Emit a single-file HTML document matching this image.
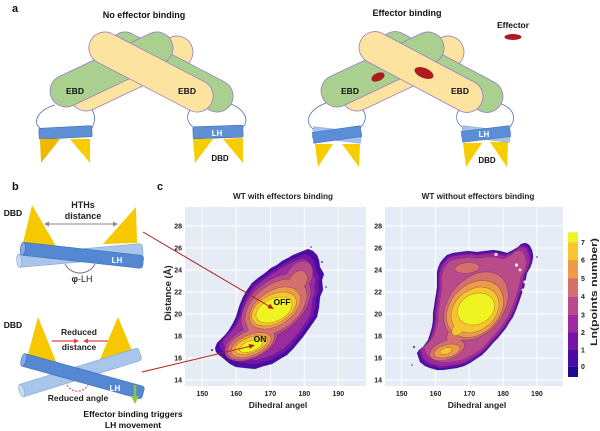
<!DOCTYPE html>
<html><head><meta charset="utf-8"><style>
html,body{margin:0;padding:0;background:#fff;}
svg{display:block;font-family:"Liberation Sans",Arial,sans-serif;}
</style></head><body>
<svg width="600" height="431" viewBox="0 0 600 431" xmlns="http://www.w3.org/2000/svg">
<defs>
<marker id="ar" markerWidth="6" markerHeight="6" refX="5" refY="3" orient="auto" markerUnits="userSpaceOnUse"><path d="M0,0.5 L6,3 L0,5.5 Z" fill="#b01e1e"/></marker>
<path id="EL" d="M215,348 L216,352 L219,355 L224,359 L230,364 L236,367 L245,368 L255,369 L264,366 L272,364 L280,359 L287,355 L293,349 L298,343 L303,337 L308,330 L313,323 L317,317 L319,308 L320,297 L323,290 L322,280 L324,274 L320,267 L319,260 L317,255 L313,251 L308,249 L303,251 L298,253 L293,255 L288,258 L282,261 L277,265 L271,268 L265,273 L258,278 L252,283 L247,290 L243,297 L240,304 L238,310 L236,317 L233,323 L229,330 L225,335 L221,339 L217,343 Z"/>
<path id="ER" d="M417,353 L420,362 L425,366 L430,368 L437,370 L443,370 L450,369 L457,368 L464,366 L470,363 L476,359 L482,355 L488,349 L493,343 L498,338 L502,333 L506,328 L509,323 L513,317 L516,310 L519,302 L522,293 L524,288 L525,283 L526,278 L527,273 L530,268 L532,263 L533,258 L533,255 L532,250 L530,246 L528,244 L525,243 L521,244 L518,247 L513,250 L507,253 L500,251 L493,250 L485,251 L477,252 L468,251 L460,252 L453,253 L447,255 L443,259 L440,263 L438,268 L437,272 L437,280 L437,287 L436,294 L435,300 L434,307 L433,313 L433,320 L432,327 L430,334 L428,340 L423,347 L419,350 Z"/>
<!-- left plot levels -->
<g id="L4"><ellipse rx="40" ry="25" transform="translate(276,306) rotate(-40)"/><ellipse rx="28" ry="15" transform="translate(251,343) rotate(-25)"/><ellipse rx="17" ry="12" transform="translate(299,277) rotate(-55)"/></g>
<g id="L5"><ellipse rx="35" ry="22" transform="translate(276,307) rotate(-38)"/><ellipse rx="25" ry="13" transform="translate(251,344) rotate(-24)"/><ellipse rx="11" ry="8" transform="translate(298,281) rotate(-55)"/><ellipse rx="12" ry="8" transform="translate(258,328) rotate(-50)"/></g>
<g id="L6"><ellipse rx="28" ry="17" transform="translate(275,308) rotate(-33)"/><ellipse rx="21" ry="10" transform="translate(251,345) rotate(-22)"/></g>
<g id="L7"><ellipse rx="24" ry="14" transform="translate(274,309) rotate(-28)"/><ellipse rx="17" ry="7.5" transform="translate(251,345) rotate(-20)"/></g>
<g id="L8"><ellipse rx="19" ry="11" transform="translate(274,310) rotate(-25)"/><ellipse rx="12" ry="5" transform="translate(251,346) rotate(-20)"/></g>
<!-- right plot levels -->
<g id="R5"><ellipse rx="38" ry="27" transform="translate(476,306) rotate(-50)"/><ellipse rx="18" ry="9" transform="translate(447,350) rotate(-20)"/><ellipse rx="12" ry="5" transform="translate(467,268) rotate(-5)"/><ellipse rx="14" ry="8" transform="translate(458,332) rotate(-50)"/></g>
<g id="R6"><ellipse rx="32" ry="24" transform="translate(475,309) rotate(-45)"/><ellipse rx="13" ry="6" transform="translate(447,351) rotate(-15)"/></g>
<g id="R7"><ellipse rx="26" ry="20" transform="translate(475,310) rotate(-40)"/><ellipse rx="9" ry="5" transform="translate(459,328) rotate(-50)"/><ellipse rx="6" ry="3" transform="translate(446,351) rotate(-15)"/></g>
<g id="R8"><ellipse rx="19" ry="15" transform="translate(476,309) rotate(-25)"/></g>
</defs>

<!-- ===== Panel a ===== -->
<text x="12" y="12" font-size="11" font-weight="bold" fill="#111">a</text>
<text x="144" y="18" font-size="9" font-weight="bold" text-anchor="middle" fill="#111">No effector binding</text>
<text x="407" y="16" font-size="9" font-weight="bold" text-anchor="middle" fill="#111">Effector binding</text>
<text x="513" y="28" font-size="8.5" font-weight="bold" text-anchor="middle" fill="#111">Effector</text>
<ellipse cx="513" cy="37" rx="8.5" ry="3" fill="#b0191e"/>

<g fill="none" stroke="#4a72b0" stroke-width="0.8">
<path d="M55,105 C38,110 32,122 40,128"/>
<path d="M92,110 C96,116 95,122 92,128"/>
<path d="M190,110 C186,116 187,122 193,127"/>
<path d="M228,103 C244,108 250,120 243,127"/>
<path d="M326,103 C308,110 304,122 313,129"/>
<path d="M363,110 C367,116 366,122 360,128"/>
<path d="M459,110 C455,116 456,122 462,127"/>
<path d="M499,103 C514,108 517,118 510,127"/>
</g>
<g stroke="#9a7cc8" stroke-width="0.8">
<rect x="-66.3" y="-16" width="132.6" height="32" rx="16" fill="#fce4a0" transform="translate(131.5,73.5) rotate(-25.3)"/>
<rect x="-68" y="-16" width="136" height="32" rx="16" fill="#a9d08e" transform="translate(171,72) rotate(27.5)"/>
<rect x="-66.3" y="-16" width="132.6" height="32" rx="16" fill="#a9d08e" transform="translate(111.5,69.5) rotate(-25.3)"/>
<rect x="-68" y="-16" width="136" height="32" rx="16" fill="#fce4a0" transform="translate(151,72) rotate(27.5)"/>
</g>
<g stroke="#9a7cc8" stroke-width="0.8">
<rect x="-66.3" y="-16" width="132.6" height="32" rx="16" fill="#fce4a0" transform="translate(402.5,73.5) rotate(-25.3)"/>
<rect x="-68" y="-16" width="136" height="32" rx="16" fill="#a9d08e" transform="translate(441,72) rotate(28)"/>
<rect x="-66.3" y="-16" width="132.6" height="32" rx="16" fill="#a9d08e" transform="translate(382.5,69.5) rotate(-25.3)"/>
</g>
<ellipse cx="0" cy="0" rx="7" ry="4" fill="#b0191e" transform="translate(378,77) rotate(-25)"/>
<rect x="-68" y="-16" width="136" height="32" rx="16" fill="#fce4a0" stroke="#9a7cc8" stroke-width="0.8" transform="translate(421,72) rotate(28)"/>
<ellipse cx="0" cy="0" rx="10" ry="5" fill="#b0191e" transform="translate(424,73) rotate(22)"/>

<g font-size="8.5" font-weight="bold" fill="#111" text-anchor="middle">
<text x="75" y="94">EBD</text><text x="187" y="94">EBD</text>
<text x="350" y="94">EBD</text><text x="460" y="94">EBD</text>
</g>

<rect x="39" y="127" width="53" height="11" rx="1.5" fill="#5f8fd4" stroke="#3f6db0" stroke-width="0.6" transform="rotate(-3 65.5 132.5)"/>
<rect x="193" y="126" width="50" height="12" rx="1.5" fill="#5f8fd4" stroke="#3f6db0" stroke-width="0.6" transform="rotate(-2 218 132)"/>
<polygon points="40,139 60,139 41,163" fill="#f0b800"/>
<polygon points="70,139 90,139 90,163" fill="#f7cd00"/>
<polygon points="193,139 213,139 195,163" fill="#f7cd00"/>
<polygon points="223,139 243,138 243,163" fill="#f7cd00"/>
<text x="217" y="136" font-size="8" font-weight="bold" fill="#fff" text-anchor="middle">LH</text>
<text x="220" y="161" font-size="8" font-weight="bold" fill="#111" text-anchor="middle">DBD</text>

<polygon points="315,144 333,144 318,167" fill="#f7cd00"/>
<polygon points="342,144 360,144 359,167" fill="#f7cd00"/>
<polygon points="463,143 482,143 466,167" fill="#f7cd00"/>
<polygon points="490,142 508,142 507,167" fill="#f7cd00"/>
<rect x="-24.2" y="-5.5" width="48.4" height="11" fill="#a3c3ea" stroke="#7fa3d6" stroke-width="0.5" transform="translate(337,135) rotate(7)"/>
<rect x="-24.2" y="-5.5" width="48.4" height="11" fill="#5b8ed6" stroke="#3f6db0" stroke-width="0.5" transform="translate(337,134.5) rotate(-8)"/>
<rect x="-24.2" y="-5.5" width="48.4" height="11" fill="#a3c3ea" stroke="#7fa3d6" stroke-width="0.5" transform="translate(486,134) rotate(7)"/>
<rect x="-24.2" y="-5.5" width="48.4" height="11" fill="#5b8ed6" stroke="#3f6db0" stroke-width="0.5" transform="translate(486,134) rotate(-7)"/>
<text x="484" y="137" font-size="8" font-weight="bold" fill="#fff" text-anchor="middle">LH</text>
<text x="487" y="163" font-size="8" font-weight="bold" fill="#111" text-anchor="middle">DBD</text>

<!-- ===== Panel b ===== -->
<text x="12" y="190" font-size="11" font-weight="bold" fill="#111">b</text>
<text x="157" y="190" font-size="11" font-weight="bold" fill="#111">c</text>
<text x="13" y="216" font-size="8.5" font-weight="bold" fill="#111" text-anchor="middle">DBD</text>
<text x="83" y="208" font-size="9" font-weight="bold" fill="#222" text-anchor="middle">HTHs</text>
<text x="83" y="219" font-size="9" font-weight="bold" fill="#222" text-anchor="middle">distance</text>
<line x1="48" y1="224" x2="114" y2="224" stroke="#8a8a8a" stroke-width="1"/>
<polygon points="44,224 49,221.5 49,226.5" fill="#8a8a8a"/>
<polygon points="118,224 113,221.5 113,226.5" fill="#8a8a8a"/>
<polygon points="32,205 23,243 56,246" fill="#f5c800"/>
<polygon points="136,207 103,244 137,243" fill="#f5c800"/>
<g transform="translate(80,255.5) rotate(-5)"><rect x="-63" y="-6.5" width="126" height="13" rx="3" fill="#a8c5eb" stroke="#7fa3d6" stroke-width="0.6"/><ellipse cx="-61" cy="0" rx="2.5" ry="6.5" fill="#c9dcf4" stroke="#7fa3d6" stroke-width="0.6"/></g>
<g transform="translate(82,255.3) rotate(6.3)"><rect x="-61.5" y="-6.5" width="123" height="13" rx="3" fill="#5588d2" stroke="#3d6db5" stroke-width="0.6"/><ellipse cx="-59.5" cy="0" rx="2.5" ry="6.5" fill="#86abe2" stroke="#3d6db5" stroke-width="0.6"/></g>
<text x="117" y="263" font-size="8" font-weight="bold" fill="#fff" text-anchor="middle">LH</text>
<path d="M65,264 A17,17 0 0,0 95,264" fill="none" stroke="#777" stroke-width="1"/>
<text x="82" y="282" font-size="9" fill="#222" text-anchor="middle"><tspan font-weight="bold">φ</tspan>-LH</text>

<text x="13" y="328" font-size="8.5" font-weight="bold" fill="#111" text-anchor="middle">DBD</text>
<text x="79" y="335" font-size="8.5" font-weight="bold" fill="#222" text-anchor="middle">Reduced</text>
<text x="79" y="350" font-size="8.5" font-weight="bold" fill="#222" text-anchor="middle">distance</text>
<line x1="52" y1="341" x2="74" y2="341" stroke="#e84040" stroke-width="1.2"/>
<polygon points="74,338.5 79,341 74,343.5" fill="#e84040"/>
<line x1="108" y1="341" x2="88" y2="341" stroke="#e84040" stroke-width="1.2"/>
<polygon points="88,338.5 83,341 88,343.5" fill="#e84040"/>
<polygon points="38,317 27,358 57,364" fill="#f5c800"/>
<polygon points="118,317 98,364 133,353" fill="#f5c800"/>
<g transform="translate(80,372.5) rotate(-17.2)"><rect x="-63" y="-6.5" width="126" height="13" rx="3" fill="#a8c5eb" stroke="#7fa3d6" stroke-width="0.6"/><ellipse cx="-61" cy="0" rx="2.5" ry="6.5" fill="#c9dcf4" stroke="#7fa3d6" stroke-width="0.6"/></g>
<g transform="translate(82.5,376.2) rotate(15.5)"><rect x="-63" y="-6.5" width="126" height="13" rx="3" fill="#5588d2" stroke="#3d6db5" stroke-width="0.6"/><ellipse cx="-61" cy="0" rx="2.5" ry="6.5" fill="#86abe2" stroke="#3d6db5" stroke-width="0.6"/></g>
<text x="115" y="391" font-size="8" font-weight="bold" fill="#fff" text-anchor="middle">LH</text>
<path d="M67,385 A12,12 0 0,0 88,385" fill="none" stroke="#e84040" stroke-width="1" stroke-dasharray="2,1.5"/>
<text x="78" y="401" font-size="8.5" font-weight="bold" fill="#222" text-anchor="middle">Reduced angle</text>
<line x1="135" y1="385" x2="135" y2="397" stroke="#8cc63f" stroke-width="2.5"/>
<polygon points="131,396 139,396 135,404" fill="#8cc63f"/>
<text x="133" y="417" font-size="8.5" font-weight="bold" fill="#111" text-anchor="middle">Effector binding triggers</text>
<text x="133" y="428" font-size="8.5" font-weight="bold" fill="#111" text-anchor="middle">LH movement</text>

<!-- ===== Panel c: left plot ===== -->
<rect x="185" y="207" width="181" height="179" fill="#e5ecf6"/>
<g stroke="#fff" stroke-width="1">
<line x1="202.3" y1="207" x2="202.3" y2="386"/><line x1="236.3" y1="207" x2="236.3" y2="386"/><line x1="270.3" y1="207" x2="270.3" y2="386"/><line x1="304.3" y1="207" x2="304.3" y2="386"/><line x1="338.3" y1="207" x2="338.3" y2="386"/>
<line x1="185" y1="226" x2="366" y2="226"/><line x1="185" y1="248" x2="366" y2="248"/><line x1="185" y1="270" x2="366" y2="270"/><line x1="185" y1="292" x2="366" y2="292"/><line x1="185" y1="314" x2="366" y2="314"/><line x1="185" y1="336" x2="366" y2="336"/><line x1="185" y1="358" x2="366" y2="358"/><line x1="185" y1="380" x2="366" y2="380"/>
</g>
<use href="#EL" fill="#4b0ca6" stroke="#333" stroke-opacity=".3" stroke-width=".5"/>
<use href="#EL" fill="#7514a9" stroke="#333" stroke-opacity=".3" stroke-width=".5" transform="translate(270,310) scale(0.92) translate(-270,-310)"/>
<use href="#EL" fill="#9b2b9f" stroke="#333" stroke-opacity=".3" stroke-width=".5" transform="translate(270,310) scale(0.85) translate(-270,-310)"/>
<use href="#L4" fill="none" stroke="#333" stroke-opacity=".4" stroke-width="1"/><use href="#L4" fill="#b94b8b"/>
<use href="#L5" fill="none" stroke="#333" stroke-opacity=".4" stroke-width="1"/><use href="#L5" fill="#d5706d"/>
<use href="#L6" fill="none" stroke="#333" stroke-opacity=".4" stroke-width="1"/><use href="#L6" fill="#eb9b4a"/>
<use href="#L7" fill="none" stroke="#333" stroke-opacity=".4" stroke-width="1"/><use href="#L7" fill="#f6c52f"/>
<use href="#L8" fill="none" stroke="#333" stroke-opacity=".4" stroke-width="1"/><use href="#L8" fill="#eef321"/>
<g fill="#4b0ca6"><circle cx="212" cy="350" r="1"/><circle cx="322" cy="262" r="0.9"/><circle cx="326" cy="287" r="0.8"/><circle cx="311" cy="247" r="0.8"/></g>
<text x="282" y="305" font-size="8.5" font-weight="bold" fill="#111" text-anchor="middle">OFF</text>
<text x="260" y="342" font-size="8.5" font-weight="bold" fill="#111" text-anchor="middle">ON</text>

<g font-size="7" font-weight="bold" fill="#222" text-anchor="end">
<text x="182" y="228.5">28</text><text x="182" y="250.5">26</text><text x="182" y="272.5">24</text><text x="182" y="294.5">22</text><text x="182" y="316.5">20</text><text x="182" y="338.5">18</text><text x="182" y="360.5">16</text><text x="182" y="382.5">14</text>
<text x="382" y="228.5">28</text><text x="382" y="250.5">26</text><text x="382" y="272.5">24</text><text x="382" y="294.5">22</text><text x="382" y="316.5">20</text><text x="382" y="338.5">18</text><text x="382" y="360.5">16</text><text x="382" y="382.5">14</text>
</g>
<g font-size="7" font-weight="bold" fill="#222" text-anchor="middle">
<text x="202.3" y="396">150</text><text x="236.3" y="396">160</text><text x="270.3" y="396">170</text><text x="304.3" y="396">180</text><text x="338.3" y="396">190</text>
<text x="401.7" y="396">150</text><text x="435.5" y="396">160</text><text x="469.3" y="396">170</text><text x="503.1" y="396">180</text><text x="536.9" y="396">190</text>
</g>
<text x="283" y="199" font-size="8.2" font-weight="bold" fill="#222" text-anchor="middle">WT with effectors binding</text>
<text x="478" y="199" font-size="8.2" font-weight="bold" fill="#222" text-anchor="middle">WT without effectors binding</text>
<text x="278" y="408" font-size="8.5" font-weight="bold" fill="#222" text-anchor="middle">Dihedral angel</text>
<text x="477" y="408" font-size="8.5" font-weight="bold" fill="#222" text-anchor="middle">Dihedral angel</text>
<text transform="translate(171,293) rotate(-90)" font-size="9.5" font-weight="bold" fill="#222" text-anchor="middle">Distance (Å)</text>

<!-- ===== right plot ===== -->
<rect x="385" y="207" width="178" height="179" fill="#e5ecf6"/>
<g stroke="#fff" stroke-width="1">
<line x1="401.7" y1="207" x2="401.7" y2="386"/><line x1="435.5" y1="207" x2="435.5" y2="386"/><line x1="469.3" y1="207" x2="469.3" y2="386"/><line x1="503.1" y1="207" x2="503.1" y2="386"/><line x1="536.9" y1="207" x2="536.9" y2="386"/>
<line x1="385" y1="226" x2="563" y2="226"/><line x1="385" y1="248" x2="563" y2="248"/><line x1="385" y1="270" x2="563" y2="270"/><line x1="385" y1="292" x2="563" y2="292"/><line x1="385" y1="314" x2="563" y2="314"/><line x1="385" y1="336" x2="563" y2="336"/><line x1="385" y1="358" x2="563" y2="358"/><line x1="385" y1="380" x2="563" y2="380"/>
</g>
<use href="#ER" fill="#4b0ca6" stroke="#333" stroke-opacity=".3" stroke-width=".5"/>
<use href="#ER" fill="#7514a9" stroke="#333" stroke-opacity=".3" stroke-width=".5" transform="translate(476,305) scale(0.97) translate(-476,-305)"/>
<use href="#ER" fill="#9b2b9f" stroke="#333" stroke-opacity=".3" stroke-width=".5" transform="translate(476,305) scale(0.94) translate(-476,-305)"/>
<use href="#ER" fill="#b94b8b" stroke="#333" stroke-opacity=".3" stroke-width=".5" transform="translate(476,305) scale(0.88) translate(-476,-305)"/>
<use href="#R5" fill="none" stroke="#333" stroke-opacity=".4" stroke-width="1"/><use href="#R5" fill="#d5706d"/>
<use href="#R6" fill="none" stroke="#333" stroke-opacity=".4" stroke-width="1"/><use href="#R6" fill="#eb9b4a"/>
<use href="#R7" fill="none" stroke="#333" stroke-opacity=".4" stroke-width="1"/><use href="#R7" fill="#f6c52f"/>
<use href="#R8" fill="none" stroke="#333" stroke-opacity=".4" stroke-width="1"/><use href="#R8" fill="#eef321"/>
<g fill="#e5ecf6"><circle cx="496" cy="254.5" r="1.6"/><circle cx="516.5" cy="265" r="1.6"/><circle cx="520" cy="270" r="1.4"/><circle cx="525" cy="282" r="1.6"/><circle cx="523" cy="290" r="1.5"/></g>
<g fill="#4b0ca6"><circle cx="414" cy="347" r="1"/><circle cx="412" cy="365" r="0.7"/><circle cx="537" cy="257" r="0.8"/></g>

<!-- colorbar -->
<rect x="568" y="232.3" width="10" height="10" fill="#eef321"/>
<rect x="568" y="242.3" width="10" height="17.8" fill="#f6c52f"/>
<rect x="568" y="260" width="10" height="18.4" fill="#eb9b4a"/>
<rect x="568" y="278.3" width="10" height="18.5" fill="#d5706d"/>
<rect x="568" y="296.7" width="10" height="18.4" fill="#b94b8b"/>
<rect x="568" y="315" width="10" height="17.4" fill="#9b2b9f"/>
<rect x="568" y="332.3" width="10" height="17.8" fill="#7514a9"/>
<rect x="568" y="350" width="10" height="16.8" fill="#4b0ca6"/>
<rect x="568" y="366.7" width="10" height="10.3" fill="#1c0c8d"/>
<g font-size="7" font-weight="bold" fill="#222">
<text x="581" y="244.8">7</text><text x="581" y="262.5">6</text><text x="581" y="280.8">5</text><text x="581" y="299.2">4</text><text x="581" y="317.5">3</text><text x="581" y="334.8">2</text><text x="581" y="352.5">1</text><text x="581" y="369.2">0</text>
</g>
<text transform="translate(597,292) rotate(-90)" font-size="9.5" font-weight="bold" fill="#222" text-anchor="middle" textLength="108" lengthAdjust="spacingAndGlyphs">Ln(points number)</text>

<line x1="143" y1="232" x2="273" y2="308.5" stroke="#b01e1e" stroke-width="1" marker-end="url(#ar)"/>
<line x1="142" y1="372" x2="254" y2="345.3" stroke="#b01e1e" stroke-width="1" marker-end="url(#ar)"/>
</svg>
</body></html>
